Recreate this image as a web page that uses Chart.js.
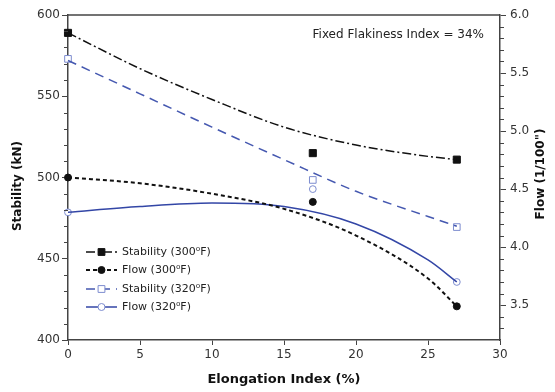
<!DOCTYPE html>
<html><head><meta charset="utf-8">
<script src="https://cdn.jsdelivr.net/npm/chart.js@4.4.1/dist/chart.umd.min.js"></script>
<style>html,body{margin:0;padding:0;background:#fff}#wrap{width:555px;height:392px}</style>
</head><body><div id="wrap"><canvas id="c" width="555" height="392"></canvas></div>
<script>
// measured points
const elongation = [0, 17, 27];
const stability300 = [589, 515, 511];
const flow300 = [4.60, 4.39, 3.49];
const stability320 = [573, 498.5, 469.5];
const flow320 = [4.30, 4.50, 3.70];
// trend lines
const trendX = [0, 5, 10, 15, 20, 25, 27];
const stability300Trend = [589, 567, 548, 531, 520, 513, 511];
const flow300Trend = [4.60, 4.55, 4.46, 4.33, 4.10, 3.73, 3.49];
const stability320Trend = [572, 551.5, 531, 511, 491.5, 476, 470];
const flow320Trend = [4.30, 4.35, 4.38, 4.35, 4.20, 3.89, 3.70];
const xTicks = [0, 5, 10, 15, 20, 25, 30];
const seriesNames = ['Stability (300\u2070F)', 'Flow (300\u2070F)', 'Stability (320\u2070F)', 'Flow (320\u2070F)'];
const annotationText = 'Fixed Flakiness Index = 34%';

const pts = (xs, ys) => xs.map((x, i) => ({x: x, y: ys[i]}));
const BLK = '#111111', BLUE = '#3346a6', BLUE_D = '#4558b0', BLUE_M = '#7d8ccf';
const FONT = '"DejaVu Sans", Verdana, sans-serif';

const styles = [
  {color: BLK, dash: [9,3,2,3], width: 1.5, marker: 'rect', fill: BLK, mstroke: BLK, r: 5},
  {color: BLK, dash: [4,3], width: 2, marker: 'circle', fill: BLK, mstroke: BLK, r: 3.5},
  {color: BLUE_D, dash: [9,6], width: 1.5, marker: 'rect', fill: '#fff', mstroke: BLUE_M, r: 4.7},
  {color: BLUE, dash: [], width: 1.5, marker: 'circle', fill: '#fff', mstroke: BLUE_M, r: 3.4}
];
const trends = [stability300Trend, flow300Trend, stability320Trend, flow320Trend];
const marks = [stability300, flow300, stability320, flow320];
const axes = ['y', 'y2', 'y', 'y2'];

const datasets = [];
for (let i = 0; i < 4; i++) {
  const s = styles[i];
  datasets.push({
    label: seriesNames[i] + ' trend', data: pts(trendX, trends[i]), yAxisID: axes[i],
    showLine: true, pointRadius: 0, borderColor: s.color, borderWidth: s.width, borderDash: s.dash,
    cubicInterpolationMode: 'monotone', fill: false, clip: false
  });
  datasets.push({
    label: seriesNames[i], data: pts(elongation, marks[i]), yAxisID: axes[i],
    showLine: false, pointStyle: s.marker, pointRadius: s.r,
    pointBackgroundColor: s.fill, pointBorderColor: s.mstroke, pointBorderWidth: 1, clip: false
  });
}

function drawMarker(ctx, type, x, y, fill, stroke) {
  ctx.save();
  ctx.setLineDash([]);
  ctx.fillStyle = fill; ctx.strokeStyle = stroke; ctx.lineWidth = 1;
  ctx.beginPath();
  if (type === 'rect') ctx.rect(x - 3.4, y - 3.4, 6.8, 6.8);
  else ctx.arc(x, y, 3.5, 0, Math.PI * 2);
  ctx.fill(); ctx.stroke();
  ctx.restore();
}

const extras = {
  id: 'extras',
  afterDraw(chart) {
    const ctx = chart.ctx, a = chart.chartArea;
    const sy = chart.scales.y, sy2 = chart.scales.y2;
    ctx.save();
    // top border
    ctx.strokeStyle = '#444'; ctx.lineWidth = 1.5;
    ctx.beginPath(); ctx.moveTo(a.left, a.top); ctx.lineTo(a.right, a.top); ctx.stroke();
    // minor ticks
    ctx.lineWidth = 1;
    ctx.beginPath();
    for (let v = 410; v < 600; v += 10) {
      if (v % 50 === 0) continue;
      const p = Math.round(sy.getPixelForValue(v)) + 0.5;
      ctx.moveTo(a.left - 4, p); ctx.lineTo(a.left, p);
    }
    for (let k = 33; k < 60; k++) {
      if (k % 5 === 0) continue;
      const p = Math.round(sy2.getPixelForValue(k / 10)) + 0.5;
      ctx.moveTo(a.right, p); ctx.lineTo(a.right + 4, p);
    }
    ctx.stroke();
    // axis titles
    ctx.fillStyle = '#111';
    ctx.font = 'bold 13px ' + FONT;
    ctx.textAlign = 'center'; ctx.textBaseline = 'middle';
    ctx.fillText('Elongation Index (%)', (a.left + a.right) / 2, 380);
    ctx.font = 'bold 12px ' + FONT;
    ctx.save(); ctx.translate(18, 186); ctx.rotate(-Math.PI / 2);
    ctx.fillText('Stability (kN)', 0, 0); ctx.restore();
    ctx.save(); ctx.translate(541, 174); ctx.rotate(-Math.PI / 2);
    ctx.fillText('Flow (1/100")', 0, 0); ctx.restore();
    // annotation
    ctx.font = '12px ' + FONT; ctx.fillStyle = '#222';
    ctx.textAlign = 'right';
    ctx.fillText(annotationText, 484, 35);
    // legend
    const rows = [252, 270, 289, 307];
    ctx.font = '11px ' + FONT; ctx.textAlign = 'left';
    for (let i = 0; i < 4; i++) {
      const s = styles[i], y = rows[i];
      ctx.strokeStyle = s.color; ctx.lineWidth = s.width; ctx.setLineDash(s.dash);
      ctx.beginPath(); ctx.moveTo(86, y); ctx.lineTo(117, y); ctx.stroke();
      ctx.setLineDash([]);
      drawMarker(ctx, s.marker, 101.5, y, s.fill, s.mstroke);
      ctx.fillStyle = '#222';
      ctx.fillText(seriesNames[i], 122, y);
    }
    ctx.restore();
  }
};

const tickFont = {family: FONT, size: 12};
new Chart(document.getElementById('c'), {
  type: 'scatter',
  data: {datasets: datasets},
  options: {
    responsive: false, animation: false, events: [],
    layout: {padding: {top: 15, left: 0, right: 0, bottom: 0}},
    plugins: {legend: {display: false}, tooltip: {enabled: false}},
    scales: {
      x: {
        type: 'linear', min: 0, max: 30, position: 'bottom',
        afterBuildTicks: s => { s.ticks = xTicks.map(v => ({value: v})); },
        afterFit: s => { s.height = 52; },
        ticks: {font: tickFont, color: '#333', padding: 3},
        grid: {drawOnChartArea: false, tickLength: 5, color: '#444', tickWidth: 1},
        border: {color: '#444', width: 1.5}
      },
      y: {
        type: 'linear', min: 400, max: 600, position: 'left',
        ticks: {stepSize: 50, font: tickFont, color: '#333', padding: 2},
        afterFit: s => { s.width = 68; },
        grid: {drawOnChartArea: false, tickLength: 6, color: '#444'},
        border: {color: '#444', width: 1.5}
      },
      y2: {
        type: 'linear', min: 3.2, max: 6.0, position: 'right',
        ticks: {stepSize: 0.5, includeBounds: false, font: tickFont, color: '#333', padding: 4,
                callback: v => Number(v).toFixed(1)},
        afterFit: s => { s.width = 55; },
        grid: {drawOnChartArea: false, tickLength: 6, color: '#444'},
        border: {color: '#444', width: 1.5}
      }
    }
  },
  plugins: [extras]
});
</script></body></html>
